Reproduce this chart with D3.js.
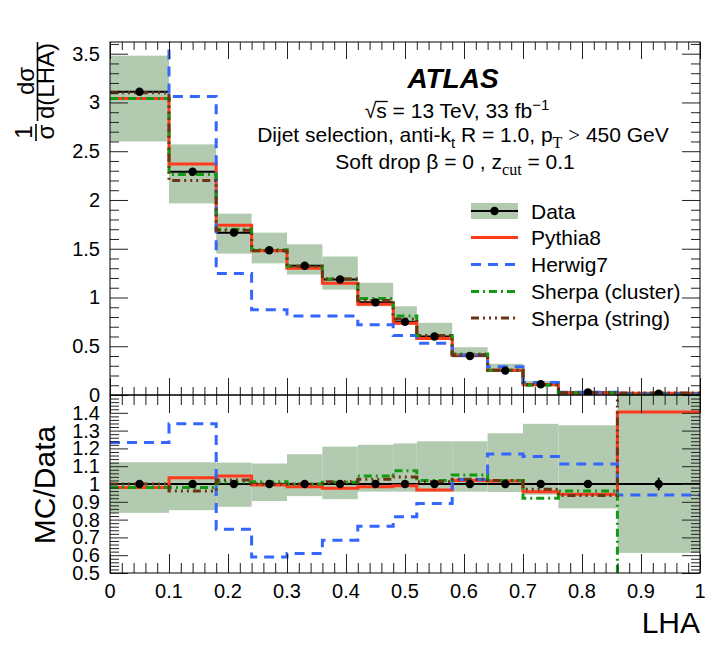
<!DOCTYPE html>
<html>
<head>
<meta charset="utf-8">
<script src="https://cdn.jsdelivr.net/npm/d3@7"></script>
<style>
  html, body { margin: 0; padding: 0; background: #fff; }
  svg { display: block; font-family: "Liberation Sans", Arial, Helvetica, sans-serif; }
</style>
</head>
<body>
<svg id="chart" width="724" height="647"></svg>
<script>
// ---------------- DATA ----------------
const binEdges = [0, 0.1, 0.18, 0.24, 0.30, 0.36, 0.42, 0.48, 0.52, 0.58, 0.64, 0.70, 0.76, 0.86, 1.0];

// top panel: 1/sigma dsigma/dLHA
const dataValues = [3.11, 2.29, 1.665, 1.485, 1.325, 1.185, 0.95, 0.75, 0.60, 0.40, 0.25, 0.11, 0.025, 0.013];
const dataBandLow = [2.60, 1.965, 1.45, 1.35, 1.235, 1.08, 0.91, 0.72, 0.575, 0.385, 0.235, 0.10, 0.021, 0.008];
const dataBandHigh = [3.48, 2.57, 1.86, 1.665, 1.545, 1.42, 1.15, 0.91, 0.74, 0.49, 0.32, 0.145, 0.033, 0.02];
const dataStatErr = [0.01, 0.01, 0.008, 0.006, 0.005, 0.005, 0.004, 0.004, 0.003, 0.003, 0.002, 0.002, 0.001, 0.001];
const pythia8 = [3.04, 2.37, 1.74, 1.48, 1.30, 1.145, 0.93, 0.735, 0.58, 0.41, 0.255, 0.105, 0.024, 0.018];
const herwig7 = [3.81, 3.06, 1.245, 0.875, 0.81, 0.81, 0.72, 0.61, 0.53, 0.41, 0.29, 0.128, 0.028, 0.012];
const sherpaCluster = [3.04, 2.26, 1.70, 1.49, 1.32, 1.19, 0.99, 0.81, 0.61, 0.42, 0.255, 0.10, 0.024, 0];
const sherpaString = [3.10, 2.20, 1.69, 1.48, 1.32, 1.19, 0.97, 0.78, 0.61, 0.41, 0.255, 0.107, 0.0235, 0.021];

// bottom panel: MC / Data
const ratioData = [1, 1, 1, 1, 1, 1, 1, 1, 1, 1, 1, 1, 1, 1];
const ratioStatErr = [0.003, 0.003, 0.004, 0.004, 0.004, 0.004, 0.005, 0.005, 0.005, 0.007, 0.008, 0.012, 0.015, 0.035];
const ratioBandLow = [0.838, 0.853, 0.872, 0.904, 0.932, 0.915, 0.957, 0.957, 0.957, 0.957, 0.955, 0.94, 0.863, 0.613];
const ratioBandHigh = [1.122, 1.122, 1.12, 1.115, 1.167, 1.21, 1.22, 1.228, 1.24, 1.24, 1.285, 1.338, 1.33, 1.6];
const ratioPythia8 = [0.98, 1.035, 1.045, 0.994, 0.985, 0.976, 0.985, 0.99, 0.966, 1.02, 1.017, 0.957, 0.942, 1.404];
const ratioHerwig7 = [1.233, 1.338, 0.746, 0.59, 0.61, 0.684, 0.762, 0.816, 0.89, 1.025, 1.168, 1.154, 1.112, 0.938];
const ratioSherpaCluster = [0.98, 0.98, 1.01, 1.013, 1.0, 1.01, 1.045, 1.075, 1.02, 1.05, 1.02, 0.92, 0.96, 0];
const ratioSherpaString = [1.0, 0.96, 1.022, 1.0, 1.0, 1.012, 1.026, 1.04, 1.013, 1.026, 1.02, 0.97, 0.935, 1.6];

const xTickLabels = ["0", "0.1", "0.2", "0.3", "0.4", "0.5", "0.6", "0.7", "0.8", "0.9", "1"];
const yTopTickLabels = ["0", "0.5", "1", "1.5", "2", "2.5", "3", "3.5"];
const yBotTickLabels = ["0.5", "0.6", "0.7", "0.8", "0.9", "1", "1.1", "1.2", "1.3", "1.4"];

const legendLabels = ["Data", "Pythia8", "Herwig7", "Sherpa (cluster)", "Sherpa (string)"];

// ---------------- STYLE ----------------
const C = {
  band: "#b2cbb0",
  data: "#000000",
  pythia: "#ff3a1c",
  herwig: "#3366ff",
  cluster: "#139a13",
  string: "#6b3414"
};
const mcSeries = [
  { key: "pythia", top: pythia8, bot: ratioPythia8, color: C.pythia, dash: null },
  { key: "herwig", top: herwig7, bot: ratioHerwig7, color: C.herwig, dash: "10,7" },
  { key: "cluster", top: sherpaCluster, bot: ratioSherpaCluster, color: C.cluster, dash: "8,4,2,4" },
  { key: "string", top: sherpaString, bot: ratioSherpaString, color: C.string, dash: "8,4,2,4,2,4,2,4" }
];

const L = 110, R = 700, T1 = 42, B1 = 395, T2 = 395, B2 = 573;

const svg = d3.select("#chart");
const x = d3.scaleLinear().domain([0, 1]).range([L, R]);
const yTop = d3.scaleLinear().domain([0, 3.62]).range([B1, T1]);
const yBot = d3.scaleLinear().domain([0.5, 1.5]).range([B2, T2]);

const defs = svg.append("defs");
defs.append("clipPath").attr("id", "clipTop").append("rect")
  .attr("x", L).attr("y", T1).attr("width", R - L).attr("height", B1 - T1);
defs.append("clipPath").attr("id", "clipBot").append("rect")
  .attr("x", L).attr("y", T2).attr("width", R - L).attr("height", B2 - T2);

const nb = binEdges.length - 1;
const bins = d3.range(nb).map(i => ({ lo: binEdges[i], hi: binEdges[i + 1], c: (binEdges[i] + binEdges[i + 1]) / 2 }));

function stepPoints(vals) {
  const pts = vals.map((v, i) => [binEdges[i], v]);
  pts.push([binEdges[nb], vals[nb - 1]]);
  return pts;
}

function drawPanel(g, y, bandLo, bandHi, dataV, statErr, key) {
  g.append("g").selectAll("rect").data(bins).join("rect")
    .attr("x", d => x(d.lo))
    .attr("width", d => x(d.hi) - x(d.lo))
    .attr("y", (d, i) => y(bandHi[i]))
    .attr("height", (d, i) => y(bandLo[i]) - y(bandHi[i]))
    .attr("fill", C.band);
  g.append("g").selectAll("line").data(bins).join("line")
    .attr("x1", d => x(d.lo)).attr("x2", d => x(d.hi))
    .attr("y1", (d, i) => y(dataV[i])).attr("y2", (d, i) => y(dataV[i]))
    .attr("stroke", C.data).attr("stroke-width", 2);
  const line = d3.line().x(d => x(d[0])).y(d => y(d[1])).curve(d3.curveStepAfter);
  mcSeries.forEach(s => {
    g.append("path")
      .attr("d", line(stepPoints(s[key])))
      .attr("fill", "none")
      .attr("stroke", s.color)
      .attr("stroke-width", 3)
      .attr("stroke-dasharray", s.dash);
  });
  g.append("g").selectAll("line").data(bins).join("line")
    .attr("x1", d => x(d.c)).attr("x2", d => x(d.c))
    .attr("y1", (d, i) => y(dataV[i] + statErr[i])).attr("y2", (d, i) => y(dataV[i] - statErr[i]))
    .attr("stroke", C.data).attr("stroke-width", 2);
  g.append("g").selectAll("circle").data(bins).join("circle")
    .attr("cx", d => x(d.c)).attr("cy", (d, i) => y(dataV[i]))
    .attr("r", 4.2).attr("fill", C.data);
}

const gTop = svg.append("g").attr("clip-path", "url(#clipTop)");
drawPanel(gTop, yTop, dataBandLow, dataBandHigh, dataValues, dataStatErr, "top");
const gBot = svg.append("g").attr("clip-path", "url(#clipBot)");
drawPanel(gBot, yBot, ratioBandLow, ratioBandHigh, ratioData, ratioStatErr, "bot");

// ---------------- AXES / TICKS ----------------
const xMajor = d3.range(0, 1.0001, 0.1);
const xMinor = d3.range(0, 1.0001, 0.02).filter(v => Math.abs(v * 10 - Math.round(v * 10)) > 1e-6);
const yTopMajor = d3.range(0, 3.6, 0.5);
const yTopMinor = d3.range(0, 3.62, 0.1).filter(v => Math.abs(v * 2 - Math.round(v * 2)) > 1e-6);
const yBotMajor = d3.range(0.5, 1.5001, 0.1);
const yBotMinor = d3.range(0.5, 1.5, 0.02).filter(v => Math.abs(v * 10 - Math.round(v * 10)) > 1e-6);

function tickAxis(gen, scale, vals, size, tx, ty) {
  const a = gen(scale).tickValues(vals).tickSize(size).tickFormat("");
  const g = svg.append("g").attr("transform", `translate(${tx},${ty})`).call(a);
  g.select(".domain").remove();
  g.selectAll("line").attr("stroke", "#222").attr("stroke-width", 1);
}
tickAxis(d3.axisBottom, x, xMajor, 17, 0, T1);
tickAxis(d3.axisBottom, x, xMinor, 8, 0, T1);
tickAxis(d3.axisTop, x, xMajor, 17, 0, B1);
tickAxis(d3.axisTop, x, xMinor, 8, 0, B1);
tickAxis(d3.axisRight, yTop, yTopMajor, 18, L, 0);
tickAxis(d3.axisRight, yTop, yTopMinor, 9, L, 0);
tickAxis(d3.axisLeft, yTop, yTopMajor, 18, R, 0);
tickAxis(d3.axisLeft, yTop, yTopMinor, 9, R, 0);
tickAxis(d3.axisBottom, x, xMajor, 18, 0, T2);
tickAxis(d3.axisBottom, x, xMinor, 10, 0, T2);
tickAxis(d3.axisTop, x, xMajor, 19, 0, B2);
tickAxis(d3.axisTop, x, xMinor, 10, 0, B2);
tickAxis(d3.axisRight, yBot, yBotMajor, 18, L, 0);
tickAxis(d3.axisRight, yBot, yBotMinor, 9, L, 0);
tickAxis(d3.axisLeft, yBot, yBotMajor, 18, R, 0);
tickAxis(d3.axisLeft, yBot, yBotMinor, 9, R, 0);

svg.append("rect").attr("x", L).attr("y", T1).attr("width", R - L).attr("height", B1 - T1)
  .attr("fill", "none").attr("stroke", "#000").attr("stroke-width", 1);
svg.append("rect").attr("x", L).attr("y", T2).attr("width", R - L).attr("height", B2 - T2)
  .attr("fill", "none").attr("stroke", "#000").attr("stroke-width", 1);

// tick labels
svg.append("g").selectAll("text").data(xTickLabels).join("text")
  .attr("x", d => x(+d)).attr("y", 598)
  .attr("text-anchor", "middle").attr("font-size", 20).text(d => d);
svg.append("g").selectAll("text").data(yTopTickLabels).join("text")
  .attr("x", 100).attr("y", d => yTop(+d) + 7)
  .attr("text-anchor", "end").attr("font-size", 20).text(d => d);
svg.append("g").selectAll("text").data(yBotTickLabels).join("text")
  .attr("x", 100).attr("y", d => yBot(+d) + 7)
  .attr("text-anchor", "end").attr("font-size", 20).text(d => d);

// axis titles
svg.append("text").attr("x", R).attr("y", 633).attr("text-anchor", "end")
  .attr("font-size", 30).text("LHA");
svg.append("text").attr("transform", "translate(55,485) rotate(-90)")
  .attr("text-anchor", "middle").attr("font-size", 30).text("MC/Data");

const yt = svg.append("g").attr("font-size", 24);
yt.append("text").attr("transform", "translate(34,81) rotate(-90)").attr("text-anchor", "middle").text("dσ");
yt.append("line").attr("x1", 37.5).attr("x2", 37.5).attr("y1", 42).attr("y2", 121).attr("stroke", "#000").attr("stroke-width", 1.6);
yt.append("text").attr("transform", "translate(54,81) rotate(-90)").attr("text-anchor", "middle").text("d(LHA)");
yt.append("text").attr("transform", "translate(32,132) rotate(-90)").attr("text-anchor", "middle").text("1");
yt.append("line").attr("x1", 36).attr("x2", 36).attr("y1", 124).attr("y2", 141).attr("stroke", "#000").attr("stroke-width", 1.6);
yt.append("text").attr("transform", "translate(54,132) rotate(-90)").attr("text-anchor", "middle").text("σ");

// ---------------- ANNOTATIONS ----------------
svg.append("text").attr("x", 453).attr("y", 88).attr("text-anchor", "middle")
  .attr("font-size", 28).attr("font-weight", "bold").attr("font-style", "italic").text("ATLAS");

const serif = "'Liberation Serif', 'DejaVu Serif', serif";
const t1 = svg.append("text").attr("x", 457).attr("y", 118).attr("text-anchor", "middle").attr("font-size", 21);
t1.append("tspan").text("√");
t1.append("tspan").text("s");
t1.append("tspan").text(" = 13 TeV, 33 fb");
t1.append("tspan").attr("dy", -8).attr("font-size", 15).text("−1");
// overline of the square root
{
  const n = t1.node();
  const r = n.getExtentOfChar(0), s = n.getExtentOfChar(1);
  svg.append("line")
    .attr("x1", r.x + r.width - 1).attr("x2", s.x + s.width + 1)
    .attr("y1", 118 - 16.5).attr("y2", 118 - 16.5)
    .attr("stroke", "#000").attr("stroke-width", 1.3);
}

const t2 = svg.append("text").attr("x", 463).attr("y", 142).attr("text-anchor", "middle").attr("font-size", 21);
t2.append("tspan").text("Dijet selection, anti-k");
t2.append("tspan").attr("dy", 6).attr("font-size", 15).text("t");
t2.append("tspan").attr("dy", -6).text(" R = 1.0, p");
t2.append("tspan").attr("dy", 6).attr("font-size", 16).attr("font-family", serif).text("T");
t2.append("tspan").attr("dy", -6).text("  ");
t2.append("tspan").attr("font-family", serif).text(">");
t2.append("tspan").text(" 450 GeV");

const t3 = svg.append("text").attr("x", 455).attr("y", 169).attr("text-anchor", "middle").attr("font-size", 21);
t3.append("tspan").text("Soft drop β = 0 , z");
t3.append("tspan").attr("dy", 6).attr("font-size", 16).attr("font-family", serif).text("cut");
t3.append("tspan").attr("dy", -6).text(" = 0.1");

// ---------------- LEGEND ----------------
const lx0 = 471, lx1 = 518, ltx = 531;
const legY = [211, 237.5, 264.5, 291.5, 318];
const leg = svg.append("g");
leg.append("rect").attr("x", lx0).attr("y", legY[0] - 8).attr("width", lx1 - lx0).attr("height", 16).attr("fill", C.band);
leg.append("line").attr("x1", lx0).attr("x2", lx1).attr("y1", legY[0]).attr("y2", legY[0]).attr("stroke", "#000").attr("stroke-width", 2);
leg.append("circle").attr("cx", (lx0 + lx1) / 2).attr("cy", legY[0]).attr("r", 4.2).attr("fill", "#000");
mcSeries.forEach((s, i) => {
  leg.append("line").attr("x1", lx0).attr("x2", lx1).attr("y1", legY[i + 1]).attr("y2", legY[i + 1])
    .attr("stroke", s.color).attr("stroke-width", 3).attr("stroke-dasharray", s.dash);
});
leg.selectAll("text.lab").data(legendLabels).join("text").attr("class", "lab")
  .attr("x", ltx).attr("y", (d, i) => legY[i] + 7.5).attr("font-size", 21).text(d => d);
</script>
</body>
</html>
